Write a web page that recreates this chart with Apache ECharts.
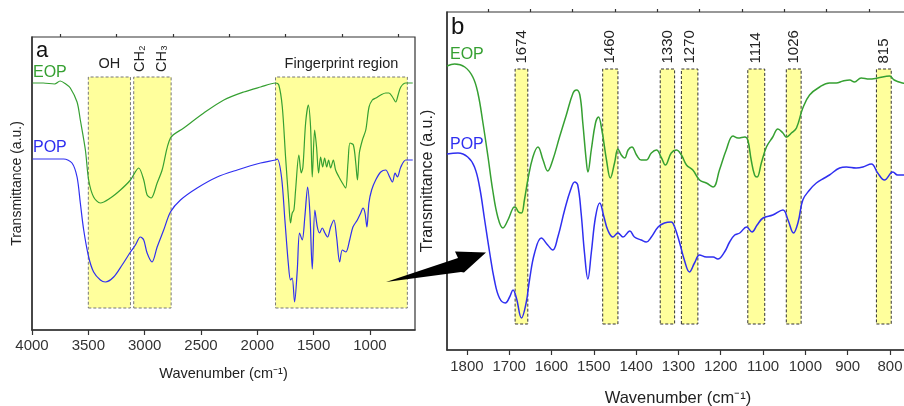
<!DOCTYPE html>
<html>
<head>
<meta charset="utf-8">
<script src="https://cdn.jsdelivr.net/npm/echarts@6/dist/echarts.min.js"></script>
<style>
  html, body { margin: 0; background: #fff; }
  #main { width: 904px; height: 406px; }
</style>
</head>
<body>
<div id="main"></div>
<script>
// spectra: [wavenumber, transmittance (a.u.)]
var eopA = [[3995,247],[3900,247],[3800,246],[3750,249],[3700,246],[3660,242],[3600,228],[3571,210],[3526,180],[3497,150],[3453,133],[3393,127],[3304,132],[3215,140],[3126,150],[3053,162],[3008,150],[2978,135],[2942,132],[2889,147],[2845,160],[2771,192],[2653,202],[2475,217],[2297,230],[2120,238],[1971,243],[1838,247],[1809,245],[1778,223],[1749,173],[1720,127],[1705,107],[1690,117],[1675,120],[1660,140],[1631,175],[1610,157],[1595,163],[1571,207],[1547,225],[1527,203],[1512,153],[1491,200],[1474,183],[1456,157],[1438,173],[1420,163],[1402,172],[1384,163],[1367,170],[1349,162],[1325,170],[1305,160],[1275,153],[1245,147],[1216,142],[1195,167],[1177,187],[1147,185],[1126,167],[1111,150],[1094,177],[1067,190],[1037,200],[1008,223],[979,230],[948,232],[904,235],[860,237],[831,237],[800,233],[771,228],[750,235],[726,243],[682,247],[620,247]];
var popA = [[3995,171],[3719,171],[3645,167],[3600,153],[3571,127],[3541,100],[3497,73],[3453,58],[3393,50],[3349,48],[3275,53],[3200,65],[3126,78],[3082,85],[3038,93],[3008,90],[2978,77],[2934,68],[2889,83],[2831,100],[2771,118],[2682,130],[2534,142],[2356,153],[2178,160],[1971,167],[1838,170],[1823,171],[1785,153],[1755,110],[1725,67],[1705,50],[1690,52],[1669,28],[1645,60],[1625,97],[1601,90],[1578,113],[1553,143],[1533,117],[1512,61],[1489,120],[1467,103],[1447,97],[1423,102],[1400,97],[1376,93],[1349,103],[1320,110],[1296,93],[1269,68],[1245,80],[1213,78],[1180,90],[1151,103],[1112,110],[1082,117],[1062,122],[1044,117],[1027,103],[1009,127],[985,140],[949,150],[904,158],[860,160],[825,153],[800,148],[777,157],[756,153],[726,163],[682,170],[620,170]];
var eopB = [[1847,284],[1829,286],[1805,283],[1786,273],[1774,257],[1762,227],[1750,193],[1739,160],[1727,133],[1715,122],[1703,130],[1691,142],[1686,143],[1678,138],[1671,137],[1664,150],[1656,170],[1644,193],[1632,203],[1620,190],[1609,179],[1597,190],[1581,213],[1565,235],[1549,257],[1541,260],[1533,255],[1526,227],[1518,190],[1514,178],[1506,200],[1496,227],[1489,233],[1481,220],[1470,190],[1461,172],[1451,187],[1443,201],[1435,195],[1427,192],[1419,200],[1410,203],[1399,195],[1388,190],[1376,190],[1364,197],[1352,200],[1340,192],[1331,185],[1317,197],[1305,200],[1293,195],[1281,185],[1266,180],[1250,170],[1234,167],[1218,163],[1203,180],[1187,200],[1171,214],[1159,212],[1143,213],[1136,210],[1128,190],[1120,175],[1114,173],[1104,187],[1092,203],[1077,213],[1065,221],[1053,217],[1045,213],[1033,217],[1021,222],[1006,242],[990,255],[966,263],[943,267],[927,267],[911,269],[895,270],[884,268],[868,272],[849,271],[829,272],[801,274],[790,270],[770,267],[755,266]];
var popB = [[1847,196],[1821,197],[1798,193],[1782,183],[1770,163],[1758,130],[1746,97],[1735,70],[1723,52],[1709,47],[1699,53],[1691,60],[1683,52],[1671,32],[1660,47],[1652,70],[1640,97],[1624,112],[1609,105],[1597,100],[1585,113],[1569,140],[1555,160],[1545,168],[1538,165],[1530,137],[1522,97],[1514,71],[1506,97],[1496,133],[1486,147],[1476,133],[1467,120],[1455,113],[1443,117],[1431,113],[1415,119],[1404,113],[1388,110],[1376,108],[1364,113],[1348,123],[1333,127],[1317,128],[1309,123],[1297,107],[1286,90],[1274,78],[1262,87],[1250,95],[1234,93],[1218,93],[1207,91],[1191,98],[1179,108],[1167,115],[1155,117],[1139,123],[1126,118],[1114,125],[1100,132],[1077,135],[1053,140],[1041,130],[1028,117],[1017,128],[1006,150],[990,160],[974,167],[955,172],[943,175],[919,182],[903,183],[880,182],[864,183],[844,186],[829,177],[813,170],[793,178],[782,175],[755,175]];

var ticksA = [1000, 1500, 2000, 2500, 3000, 3500, 4000];
var minorA = [750, 1250, 1750, 2250, 2750, 3250, 3750];
var ticksB = [800, 900, 1000, 1100, 1200, 1300, 1400, 1500, 1600, 1700, 1800];
var minorB = [850, 950, 1050, 1150, 1250, 1350, 1450, 1550, 1650, 1750];

var bandsA = [
  {name: 'OH', from: 3500, to: 3126},
  {name: '', from: 3097, to: 2765},
  {name: 'Fingerprint region', from: 1838, to: 668}
];
var groupLabelsA = [{name: 'CH\u2082', at: 3038}, {name: 'CH\u2083', at: 2842}];
var bandsB = [
  {name: '1674', from: 1686, to: 1656},
  {name: '1460', from: 1479, to: 1443},
  {name: '1330', from: 1343, to: 1309},
  {name: '1270', from: 1293, to: 1254},
  {name: '1114', from: 1136, to: 1096},
  {name: '1026', from: 1045, to: 1010},
  {name: '815', from: 832, to: 797}
];

var FONT = '"Liberation Sans", Arial, Helvetica, sans-serif';
var GREEN = '#36a032';
var BLUE = '#2f2ff0';
var YELLOW = '#ffff9c';

var chart = echarts.init(document.getElementById('main'), null, {renderer: 'canvas'});

function rotatedLabel(size) {
  return {show: true, position: 'top', rotate: 90, align: 'left', verticalAlign: 'middle',
    distance: 5, color: '#222', fontSize: size, fontFamily: FONT};
}

var areaA = bandsA.map(function (b) {
  return [{name: b.name, xAxis: b.from, yAxis: 22}, {xAxis: b.to, yAxis: 253}];
}).concat(groupLabelsA.map(function (g) {
  return [{name: g.name, xAxis: g.at, yAxis: 253,
      itemStyle: {color: 'rgba(0,0,0,0)', borderWidth: 0},
      label: rotatedLabel(14.5)},
    {xAxis: g.at, yAxis: 253}];
}));

var areaB = bandsB.map(function (b) {
  return [{name: b.name, xAxis: b.from, yAxis: 26}, {xAxis: b.to, yAxis: 281}];
});

function mainAxis(grid, min, max, ticks, nameGap, nameSize, labelMargin) {
  return {
    type: 'value', gridIndex: grid, inverse: true, min: min, max: max,
    name: 'Wavenumber (cm\u207B\u00B9)', nameLocation: 'middle', nameGap: nameGap,
    nameTextStyle: {fontSize: nameSize, color: '#222', fontFamily: FONT},
    splitLine: {show: false},
    axisLine: {lineStyle: {color: '#333', width: 1.5}},
    axisTick: {customValues: ticks, length: 5, lineStyle: {color: '#333', width: 1.2}},
    axisLabel: {customValues: ticks, margin: labelMargin, fontSize: 15, color: '#333', fontFamily: FONT,
      formatter: function (v) { return String(v); }}
  };
}
function minorAxis(grid, min, max, ticks) {
  return {
    type: 'value', gridIndex: grid, inverse: true, min: min, max: max,
    splitLine: {show: false}, axisLine: {show: false}, axisLabel: {show: false},
    axisTick: {customValues: ticks, length: 3, lineStyle: {color: '#333', width: 1.2}}
  };
}
function yAxis(grid, max, gap, size) {
  return {
    type: 'value', gridIndex: grid, min: 0, max: max,
    name: 'Transmittance (a.u.)', nameLocation: 'middle', nameGap: gap,
    nameTextStyle: {fontSize: size, color: '#222', fontFamily: FONT},
    splitLine: {show: false}, axisTick: {show: false}, axisLabel: {show: false},
    axisLine: {show: true, lineStyle: {color: '#333', width: 1.5}}
  };
}

var option = {
  animation: false,
  backgroundColor: '#fff',
  grid: [
    {left: 32, top: 37, width: 383, height: 293, outerBoundsMode: 'none', containLabel: false,
      show: true, borderColor: '#333', borderWidth: 1.2},
    {left: 447, top: 12, width: 462, height: 338, outerBoundsMode: 'none', containLabel: false,
      show: true, borderColor: '#333', borderWidth: 1.2}
  ],
  xAxis: [
    mainAxis(0, 600, 4000, ticksA, 36, 14.5, 8),
    minorAxis(0, 600, 4000, minorA),
    mainAxis(1, 755, 1847, ticksB, 40, 16.5, 9),
    minorAxis(1, 755, 1847, minorB)
  ],
  yAxis: [
    yAxis(0, 293, 8, 14),
    yAxis(1, 338, 11, 16)
  ],
  series: [
    {
      name: 'EOP', type: 'line', xAxisIndex: 0, yAxisIndex: 0, data: eopA,
      smooth: 0.3, symbol: 'none', silent: true, z: 3,
      lineStyle: {color: GREEN, width: 1.2},
      markArea: {
        silent: true,
        itemStyle: {color: YELLOW, borderColor: '#777', borderWidth: 1, borderType: [3, 2]},
        label: {show: true, position: 'top', distance: 5, color: '#222', fontSize: 14.5, fontFamily: FONT},
        data: areaA
      }
    },
    {
      name: 'POP', type: 'line', xAxisIndex: 0, yAxisIndex: 0, data: popA,
      smooth: 0.3, symbol: 'none', silent: true, z: 3,
      lineStyle: {color: BLUE, width: 1.2}
    },
    {
      name: 'EOP', type: 'line', xAxisIndex: 2, yAxisIndex: 1, data: eopB,
      smooth: 0.4, symbol: 'none', silent: true, z: 3,
      lineStyle: {color: GREEN, width: 1.5},
      markArea: {
        silent: true,
        itemStyle: {color: YELLOW, borderColor: '#333', borderWidth: 1, borderType: [3, 2]},
        label: rotatedLabel(15),
        data: areaB
      }
    },
    {
      name: 'POP', type: 'line', xAxisIndex: 2, yAxisIndex: 1, data: popB,
      smooth: 0.4, symbol: 'none', silent: true, z: 3,
      lineStyle: {color: BLUE, width: 1.5}
    }
  ],
  graphic: [
    {type: 'text', x: 36, y: 40, style: {text: 'a', fill: '#111', fontSize: 22, fontFamily: FONT, verticalAlign: 'top'}},
    {type: 'text', x: 451, y: 15, style: {text: 'b', fill: '#111', fontSize: 24, fontFamily: FONT, verticalAlign: 'top'}},
    {type: 'text', x: 33, y: 73, style: {text: 'EOP', fill: GREEN, fontSize: 16, fontFamily: FONT, verticalAlign: 'middle'}},
    {type: 'text', x: 33, y: 148, style: {text: 'POP', fill: BLUE, fontSize: 16, fontFamily: FONT, verticalAlign: 'middle'}},
    {type: 'text', x: 450, y: 55, style: {text: 'EOP', fill: GREEN, fontSize: 16, fontFamily: FONT, verticalAlign: 'middle'}},
    {type: 'text', x: 450, y: 145, style: {text: 'POP', fill: BLUE, fontSize: 16, fontFamily: FONT, verticalAlign: 'middle'}},
    {type: 'polygon', z: 100,
      shape: {points: [[386, 282], [461, 272], [464, 272.5], [486, 252.5], [455, 251.5], [458, 258]]},
      style: {fill: '#000'}}
  ]
};

chart.setOption(option);
</script>
</body>
</html>
